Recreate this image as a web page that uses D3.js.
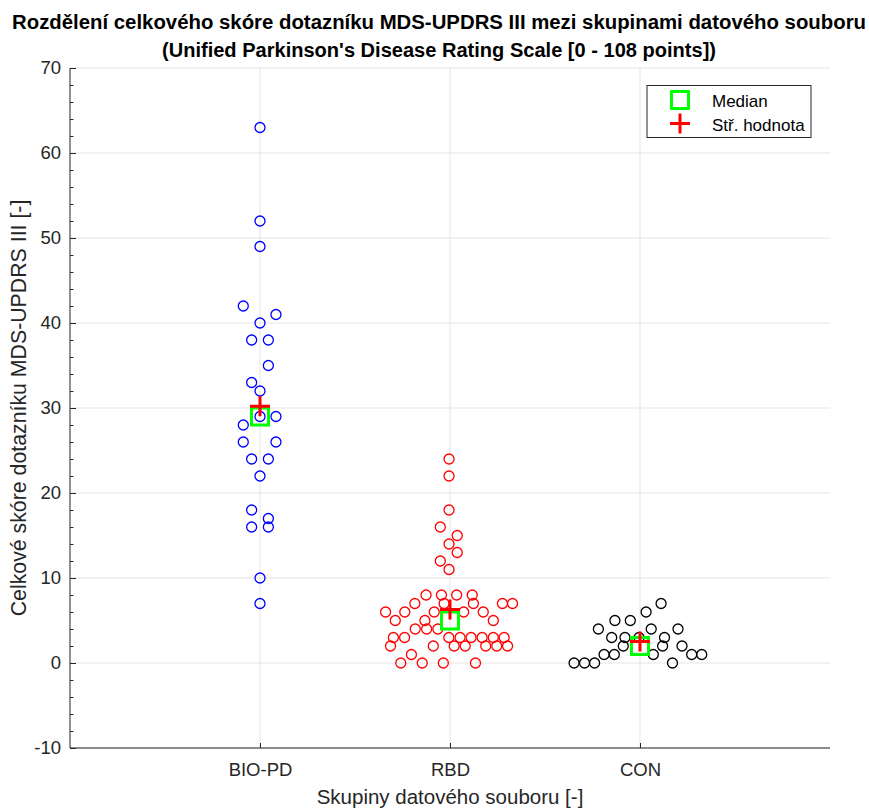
<!DOCTYPE html>
<html>
<head>
<meta charset="utf-8">
<script src="https://cdn.jsdelivr.net/npm/d3@7"></script>
<style>
  html, body { margin: 0; padding: 0; background: #fff; }
  svg { display: block; }
  text { font-family: "Liberation Sans", Arial, Helvetica, sans-serif; }
</style>
</head>
<body>
<svg id="chart" width="869" height="808"></svg>
<script>
// ---------------- DATA ----------------
const categories = ["BIO-PD", "RBD", "CON"];
const yTicks = [-10, 0, 10, 20, 30, 40, 50, 60, 70];
const yTickLabels = ["-10", "0", "10", "20", "30", "40", "50", "60", "70"];

// scores per group (MDS-UPDRS III total)
const bioPdScores = [63, 52, 49, 42, 41, 40, 38, 38, 35, 33, 32, 29, 29, 28, 26, 26, 24, 24, 22, 18, 17, 16, 16, 10, 7];
// swarm jitter (x offset from the category position, in axis units)
const bioPdJitter = [0, 0, 0, -0.088, 0.084, 0, -0.044, 0.044, 0.044, -0.044, 0, 0, 0.084, -0.088, -0.088, 0.084, -0.044, 0.044, 0, -0.044, 0.044, -0.044, 0.044, 0, 0];

const rbdScores = [24, 22, 18, 16, 15, 14, 13, 12, 11,
  8, 8, 8, 8,
  7, 7, 7, 7, 7,
  6, 6, 6, 6, 6,
  5, 5, 5,
  4, 4, 4,
  3, 3, 3, 3, 3, 3, 3, 3,
  2, 2, 2, 2, 2, 2, 2,
  1,
  0, 0, 0, 0];
const rbdJitter = [-0.005, -0.005, -0.005, -0.051, 0.038, -0.005, 0.038, -0.051, -0.005,
  -0.126, -0.045, 0.035, 0.117,
  -0.185, -0.031, 0.123, 0.276, 0.329,
  -0.339, -0.238, -0.083, 0.072, 0.175,
  -0.288, -0.132, 0.228,
  -0.183, -0.123, -0.064,
  -0.298, -0.239, -0.006, 0.053, 0.111, 0.169, 0.228, 0.285,
  -0.313, -0.088, 0.022, 0.080, 0.188, 0.246, 0.303,
  -0.203,
  -0.259, -0.146, -0.035, 0.134];

const conScores = [0, 0, 0, 0,
  1, 1, 1, 1, 1,
  2, 2, 2,
  3, 3, 3, 3,
  4, 4, 4,
  5, 5,
  6,
  7];
const conJitter = [-0.347, -0.292, -0.239, 0.171,
  -0.189, -0.135, 0.070, 0.272, 0.325,
  -0.088, 0.119, 0.221,
  -0.149, -0.079, -0.005, 0.129,
  -0.219, 0.059, 0.200,
  -0.132, -0.051,
  0.032,
  0.111];

const groupColors = ["#0000ff", "#ff0000", "#000000"];
const titleLines = ["Rozdělení celkového skóre dotazníku MDS-UPDRS III mezi skupinami datového souboru",
                    "(Unified Parkinson's Disease Rating Scale [0 - 108 points])"];
const xLabel = "Skupiny datového souboru [-]";
const yLabel = "Celkové skóre dotazníku MDS-UPDRS III [-]";
const legendLabels = ["Median", "Stř. hodnota"];

// ---------------- LAYOUT ----------------
const svg = d3.select("#chart");
const W = 869, H = 808;
const m = { left: 70, right: 39, top: 68, bottom: 60 };
const pw = W - m.left - m.right, ph = H - m.top - m.bottom;
const axisColor = "#262626";
const gridColor = "#e5e5e5";
const fontFam = "'Liberation Sans', Arial, Helvetica, sans-serif";

const x = d3.scaleLinear().domain([0, 4]).range([m.left, m.left + pw]);
const y = d3.scaleLinear().domain([-10, 70]).range([m.top + ph, m.top]);

const groups = [
  { name: categories[0], scores: bioPdScores, jitter: bioPdJitter, color: groupColors[0] },
  { name: categories[1], scores: rbdScores, jitter: rbdJitter, color: groupColors[1] },
  { name: categories[2], scores: conScores, jitter: conJitter, color: groupColors[2] }
];

// grid
const g = svg.append("g");
g.selectAll(".hgrid").data(yTicks).enter().append("line")
  .attr("x1", x(0)).attr("x2", x(4))
  .attr("y1", d => y(d)).attr("y2", d => y(d))
  .attr("stroke", gridColor).attr("stroke-width", 1);
g.selectAll(".vgrid").data(categories).enter().append("line")
  .attr("x1", (d, i) => x(i + 1)).attr("x2", (d, i) => x(i + 1))
  .attr("y1", y(-10)).attr("y2", y(70))
  .attr("stroke", gridColor).attr("stroke-width", 1);

// axes
const yAxis = d3.axisLeft(y).tickValues(yTicks).tickSize(-6).tickPadding(9)
  .tickFormat((d, i) => yTickLabels[i]);
const yMinor = d3.axisLeft(y).tickValues(d3.range(-10, 71, 2).filter(v => v % 10 !== 0)).tickSize(-3.5).tickFormat("");
const xAxis = d3.axisBottom(x).tickValues([1, 2, 3]).tickSize(-5).tickPadding(15).tickFormat(d => categories[d - 1]);

svg.append("g").attr("transform", `translate(${m.left},0)`).call(yAxis);
svg.append("g").attr("transform", `translate(${m.left},0)`).call(yMinor);
svg.append("g").attr("transform", `translate(0,${m.top + ph})`).call(xAxis);
svg.selectAll(".tick line").attr("stroke", axisColor);
svg.selectAll(".tick text").attr("fill", axisColor).style("font-size", "18.5px")
  .style("font-family", fontFam);
svg.selectAll(".domain").remove();
svg.append("line").attr("x1", m.left).attr("x2", m.left).attr("y1", m.top).attr("y2", m.top + ph)
  .attr("stroke", axisColor).attr("stroke-width", 1);
svg.append("line").attr("x1", m.left).attr("x2", m.left + pw).attr("y1", m.top + ph).attr("y2", m.top + ph)
  .attr("stroke", axisColor).attr("stroke-width", 1);

// points
groups.forEach((grp, gi) => {
  svg.append("g").selectAll("circle").data(grp.scores).enter().append("circle")
    .attr("cx", (d, i) => x(gi + 1 + grp.jitter[i]))
    .attr("cy", d => y(d))
    .attr("r", 5)
    .attr("fill", "none")
    .attr("stroke", grp.color)
    .attr("stroke-width", 1.3);
});

// median squares and mean crosses
const sq = 17, cr = 10;
function drawSquare(sel, cx, cy) {
  sel.append("rect").attr("x", cx - sq / 2).attr("y", cy - sq / 2).attr("width", sq).attr("height", sq)
    .attr("fill", "none").attr("stroke", "#00ff00").attr("stroke-width", 3);
}
function drawCross(sel, cx, cy) {
  sel.append("path").attr("d", `M${cx - cr},${cy}H${cx + cr}M${cx},${cy - cr}V${cy + cr}`)
    .attr("fill", "none").attr("stroke", "#ff0000").attr("stroke-width", 3);
}
const stats = svg.append("g");
groups.forEach((grp, gi) => {
  drawSquare(stats, x(gi + 1), y(d3.median(grp.scores)));
});
groups.forEach((grp, gi) => {
  drawCross(stats, x(gi + 1), y(d3.mean(grp.scores)));
});

// title
const titleWidths = [854, 554];
svg.append("g").selectAll("text").data(titleLines).enter().append("text")
  .attr("x", 439).attr("y", (d, i) => 29 + i * 28)
  .attr("text-anchor", "middle")
  .attr("textLength", (d, i) => titleWidths[i]).attr("lengthAdjust", "spacingAndGlyphs")
  .style("font-size", "20px").style("font-weight", "bold").attr("fill", "#000")
  .text(d => d);

// axis labels
svg.append("text").attr("x", x(2)).attr("y", 804).attr("text-anchor", "middle")
  .style("font-size", "20.5px").attr("fill", axisColor).text(xLabel);
svg.append("text").attr("transform", `translate(26,${(m.top + m.top + ph) / 2}) rotate(-90)`)
  .attr("text-anchor", "middle").style("font-size", "21.3px").attr("fill", axisColor).text(yLabel);

// legend
const lg = svg.append("g");
lg.append("rect").attr("x", 647).attr("y", 85.5).attr("width", 164).attr("height", 52)
  .attr("fill", "#fff").attr("stroke", axisColor).attr("stroke-width", 1);
drawSquare(lg, 680, 100);
drawCross(lg, 680, 123.5);
lg.selectAll(".lt").data(legendLabels).enter().append("text")
  .attr("x", 712).attr("y", (d, i) => 106.5 + i * 24)
  .style("font-size", "17px").attr("fill", "#000").text(d => d);
</script>
</body>
</html>
